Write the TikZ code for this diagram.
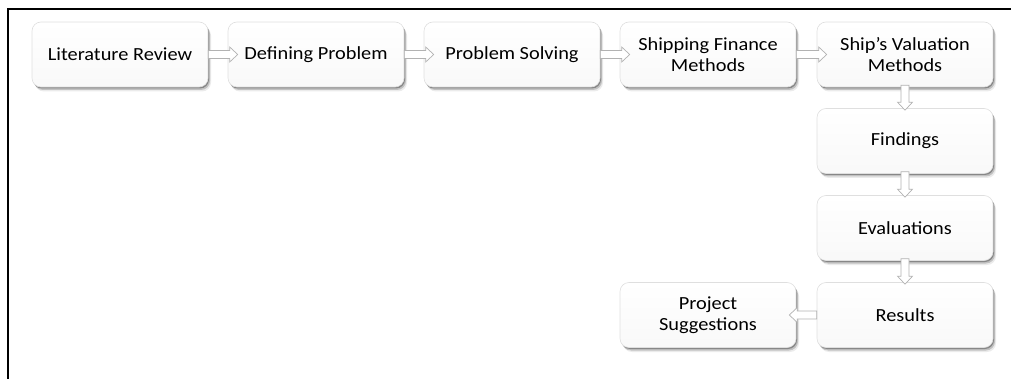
\documentclass[tikz,border=0pt]{standalone}
\usepackage{fontspec}
\setmainfont{Carlito}[FakeStretch=1.1]
\usetikzlibrary{calc,shadows}

\tikzset{
  stepbox/.style={
    rounded corners=9pt, draw=gray!25, line width=0.6pt,
    top color=white, bottom color=gray!5,
    minimum width=176pt, minimum height=65pt, inner sep=0pt,
    align=center, text=black,
    font=\fontsize{18.5}{21}\selectfont,
    drop shadow={shadow xshift=1pt, shadow yshift=-1.5pt, opacity=.30, fill=black},
    drop shadow={shadow xshift=2pt, shadow yshift=-3pt, opacity=.18, fill=black},
    drop shadow={shadow xshift=3pt, shadow yshift=-4.5pt, opacity=.08, fill=black}
  },
  % hollow block arrow; the argument lengthens it past the end point
  flowarrow/.style={
    draw=gray!60, line width=0.7pt, fill=white, line join=miter,
    to path={
      let \p1=(\tikztostart), \p2=(\tikztotarget),
          \n1={veclen(\x2-\x1,\y2-\y1)},
          \n2={(\x2-\x1)/\n1}, \n3={(\y2-\y1)/\n1},
          \n4={\n1+#1}
      in ({\x1-4*\n3}, {\y1+4*\n2})
      -- ({\x1+(\n4-8)*\n2-4*\n3}, {\y1+(\n4-8)*\n3+4*\n2})
      -- ({\x1+(\n4-8)*\n2-7.5*\n3}, {\y1+(\n4-8)*\n3+7.5*\n2})
      -- ({\x1+\n4*\n2}, {\y1+\n4*\n3})
      -- ({\x1+(\n4-8)*\n2+7.5*\n3}, {\y1+(\n4-8)*\n3-7.5*\n2})
      -- ({\x1+(\n4-8)*\n2+4*\n3}, {\y1+(\n4-8)*\n3-4*\n2})
      -- ({\x1+4*\n3}, {\y1-4*\n2})
      -- cycle
    }
  },
  flowarrow/.default=0
}

\begin{document}
\begin{tikzpicture}[x=1pt, y=-1pt]
  \useasboundingbox (0,0) rectangle (1011,379);

  % frame
  \draw[line width=2pt] (1011,9) -- (8,9) -- (8,379);

  % top row
  \node[stepbox] (lit)  at (120,54.5) {Literature Review};
  \node[stepbox] (def)  at (316,54.5) {Defining Problem};
  \node[stepbox] (solv) at (512,54.5) {Problem Solving};
  \node[stepbox] (fin)  at (708,54.5) {Shipping Finance\\Methods};
  \node[stepbox] (val)  at (905,54.5) {Ship’s Valuation\\Methods};

  % right column
  \node[stepbox] (find) at (905,141)  {Findings};
  \node[stepbox] (eval) at (905,228)  {Evaluations};
  \node[stepbox] (res)  at (905,315)  {Results};
  \node[stepbox] (sugg) at (708,315)  {Project\\Suggestions};

  % connectors
  \draw[flowarrow=10] (lit.east)  to (def.west);
  \draw[flowarrow=10] (def.east)  to (solv.west);
  \draw[flowarrow=10] (solv.east) to (fin.west);
  \draw[flowarrow=10] (fin.east)  to (val.west);
  \draw[flowarrow=2]  ([yshift=2pt]val.south)  to (find.north);
  \draw[flowarrow=2]  ([yshift=2pt]find.south) to (eval.north);
  \draw[flowarrow=2]  ([yshift=2pt]eval.south) to (res.north);
  \draw[flowarrow=7]  (res.west)  to (sugg.east);
\end{tikzpicture}
\end{document}
